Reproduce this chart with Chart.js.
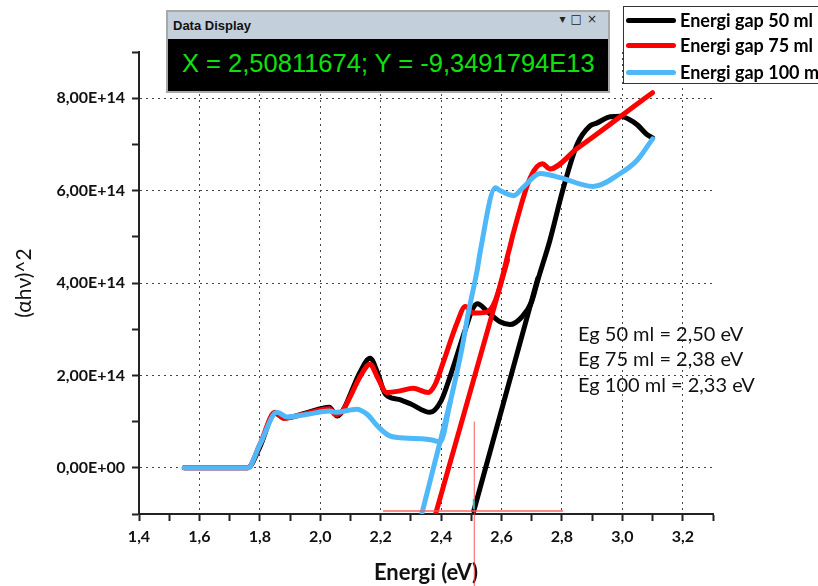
<!DOCTYPE html>
<html>
<head>
<meta charset="utf-8">
<script src="https://cdn.jsdelivr.net/npm/chart.js@4"></script>
<style>
  body { margin: 0; background: #fff; overflow: hidden; }
  #wrap { position: relative; width: 818px; height: 586px; overflow: hidden; }
  canvas { position: absolute; left: 0; top: 0; }
  #display { position: absolute; left: 166px; top: 10px; width: 440px; height: 79px; border: 2px solid #a8a8a8; background: #000; }
  #display .bar { height: 27px; background: #c3cfdb; font: bold 13px "Liberation Sans", Arial, sans-serif; color: #111; line-height: 28px; padding-left: 5px; position: relative; }
  #display .icons { position: absolute; right: 6px; top: 0; font: 12px "DejaVu Sans", sans-serif; color: #222; letter-spacing: 5px; }
  #display .val { color: #10e010; font: 25.5px "Liberation Sans", Arial, sans-serif; padding-left: 14px; line-height: 28px; margin-top: 10px; white-space: nowrap; }
  #legend { position: absolute; left: 623px; top: 6px; width: 220px; height: 76px; border: 1px solid #333; background: #fff; }
  #legend .row { position: absolute; left: 0; height: 20px; white-space: nowrap; font: bold 18px Lato, sans-serif; color: #000; line-height: 20px; }
  #legend .sw { display: inline-block; width: 50px; height: 5px; border-radius: 3px; vertical-align: middle; margin: 0 4px 0 2px; position: relative; top: -2px; }
  .note { position: absolute; left: 578px; font: 20px Lato, sans-serif; color: #111; line-height: 20px; white-space: nowrap; }
</style>
</head>
<body>
<div id="wrap">
  <canvas id="chart" width="818" height="586"></canvas>
  <div id="display">
    <div class="bar">Data Display<span class="icons">▾□×</span></div>
    <div class="val">X = 2,50811674; Y = -9,3491794E13</div>
  </div>
  <div id="legend"></div>
  <div class="note" style="top:323px">Eg 50 ml = 2,50 eV</div>
  <div class="note" style="top:348px">Eg 75 ml = 2,38 eV</div>
  <div class="note" style="top:374px">Eg 100 ml = 2,33 eV</div>
</div>
<script>
// curve 50 ml
const energy50 = [1.55, 1.76, 1.80, 1.85, 1.88, 1.95, 2.03, 2.056, 2.08, 2.10, 2.13, 2.165, 2.19, 2.215, 2.26, 2.30, 2.363, 2.40, 2.43, 2.48, 2.503, 2.52, 2.555, 2.595, 2.628, 2.668, 2.70, 2.72, 2.76, 2.804, 2.85, 2.893, 2.915, 2.96, 2.993, 3.02, 3.05, 3.08, 3.10];
const alpha50 = [0, 0, 0.45e14, 1.18e14, 1.08e14, 1.18e14, 1.31e14, 1.12e14, 1.3e14, 1.6e14, 2.05e14, 2.37e14, 2.05e14, 1.6e14, 1.48e14, 1.38e14, 1.2e14, 1.45e14, 1.98e14, 2.99e14, 3.42e14, 3.55e14, 3.37e14, 3.16e14, 3.1e14, 3.27e14, 3.6e14, 4.06e14, 4.92e14, 6.04e14, 7.0e14, 7.4e14, 7.46e14, 7.6e14, 7.61e14, 7.55e14, 7.42e14, 7.22e14, 7.14e14];
// curve 75 ml
const energy75 = [1.55, 1.76, 1.80, 1.85, 1.88, 1.95, 2.03, 2.05, 2.07, 2.10, 2.13, 2.165, 2.19, 2.22, 2.26, 2.307, 2.357, 2.38, 2.407, 2.453, 2.48, 2.507, 2.55, 2.58, 2.625, 2.64, 2.695, 2.735, 2.76, 2.85, 2.95, 3.03, 3.10];
const alpha75 = [0, 0, 0.5e14, 1.2e14, 1.07e14, 1.17e14, 1.28e14, 1.15e14, 1.2e14, 1.55e14, 1.95e14, 2.24e14, 1.95e14, 1.63e14, 1.66e14, 1.72e14, 1.63e14, 1.8e14, 2.28e14, 3.14e14, 3.49e14, 3.35e14, 3.37e14, 3.63e14, 4.71e14, 5.1e14, 6.28e14, 6.58e14, 6.47e14, 6.91e14, 7.39e14, 7.78e14, 8.12e14];
// curve 100 ml
const energy100 = [1.55, 1.76, 1.80, 1.857, 1.89, 1.95, 2.03, 2.05, 2.12, 2.155, 2.19, 2.23, 2.29, 2.337, 2.37, 2.397, 2.43, 2.47, 2.49, 2.52, 2.53, 2.58, 2.595, 2.64, 2.67, 2.728, 2.794, 2.903, 2.993, 3.048, 3.10];
const alpha100 = [0, 0, 0.5e14, 1.2e14, 1.1e14, 1.15e14, 1.23e14, 1.2e14, 1.27e14, 1.16e14, 0.9e14, 0.69e14, 0.64e14, 0.63e14, 0.6e14, 0.56e14, 1.42e14, 2.62e14, 3.35e14, 4.3e14, 4.7e14, 6.06e14, 6.0e14, 5.89e14, 6.06e14, 6.37e14, 6.28e14, 6.09e14, 6.37e14, 6.65e14, 7.12e14];

// tangent lines (start, end)
const tangent50 = { energy: [2.508, 2.72], alpha: [-0.935e14, 4.1e14] };
const tangent75 = { energy: [2.383, 2.62], alpha: [-0.97e14, 4.5e14] };
const tangent100 = { energy: [2.337, 2.43], alpha: [-0.97e14, 1.42e14] };

// data cursor
const cursorX = 2.50811674;
const cursorY = -9.3491794e13;
const cursorXSpan = [2.208, 2.804];
const cursorYTop = 1.0e14;

const xTicks = [1.4, 3.3, 0.1];
const yTicks = [-1e14, 9e14, 1e14];

const seriesNames = ['Energi gap 50 ml', 'Energi gap 75 ml', 'Energi gap 100 ml'];
const seriesColors = ['#000000', '#ff0000', '#4fb8f8'];

const toPoints = (xs, ys) => xs.map((x, i) => ({ x: x, y: ys[i] }));

function curve(label, xs, ys, color, order) {
    return {
        label: label,
        data: toPoints(xs, ys),
        borderColor: color,
        borderWidth: 5,
        pointRadius: 0,
        cubicInterpolationMode: 'monotone',
        borderCapStyle: 'round',
        borderJoinStyle: 'round',
        order: order
    };
}

function straight(t, color, order) {
    return {
        label: '',
        data: toPoints(t.energy, t.alpha),
        borderColor: color,
        borderWidth: 5,
        pointRadius: 0,
        tension: 0,
        borderCapStyle: 'round',
        order: order
    };
}

const cursorPlugin = {
    id: 'cursor',
    afterDatasetsDraw(chart) {
        const ctx = chart.ctx;
        const xs = chart.scales.x, ys = chart.scales.y;
        const px = xs.getPixelForValue(cursorX);
        const py = ys.getPixelForValue(cursorY);
        ctx.save();
        ctx.strokeStyle = 'rgba(255,60,60,0.85)';
        ctx.lineWidth = 1;
        ctx.beginPath();
        ctx.moveTo(px + 0.5, ys.getPixelForValue(cursorYTop));
        ctx.lineTo(px + 0.5, chart.height);
        ctx.stroke();
        ctx.lineWidth = 2;
        ctx.strokeStyle = 'rgba(255,90,90,0.7)';
        ctx.beginPath();
        ctx.moveTo(xs.getPixelForValue(cursorXSpan[0]), py);
        ctx.lineTo(xs.getPixelForValue(cursorXSpan[1]), py);
        ctx.stroke();
        ctx.fillStyle = '#20c0c0';
        ctx.fillRect(px - 1, py - 12, 2, 10);
        ctx.restore();
    }
};

const isMajorX = v => Math.round(v * 10) % 2 === 0;
const isMajorY = v => Math.round(v / 1e14) % 2 === 0;

new Chart(document.getElementById('chart'), {
    type: 'line',
    data: {
        datasets: [
            curve(seriesNames[0], energy50, alpha50, seriesColors[0], 3),
            curve(seriesNames[1], energy75, alpha75, seriesColors[1], 2),
            curve(seriesNames[2], energy100, alpha100, seriesColors[2], 1),
            straight(tangent50, seriesColors[0], 3),
            straight(tangent75, seriesColors[1], 2),
            straight(tangent100, seriesColors[2], 1)
        ]
    },
    options: {
        responsive: false,
        animation: false,
        devicePixelRatio: 1,
        layout: { padding: { top: 52, right: 105, left: 0, bottom: 0 } },
        plugins: { legend: { display: false }, tooltip: { enabled: false } },
        scales: {
            x: {
                type: 'linear',
                min: xTicks[0],
                max: xTicks[1],
                afterFit: s => { s.height = 72; },
                ticks: {
                    stepSize: xTicks[2],
                    autoSkip: false,
                    maxRotation: 0,
                    padding: 6,
                    color: '#111',
                    font: { family: 'Lato', weight: 'bold', size: 16 },
                    callback: v => isMajorX(v) ? v.toFixed(1).replace('.', ',') : ''
                },
                grid: {
                    color: c => (c.tick && isMajorX(c.tick.value)) ? '#444' : 'transparent',
                    tickColor: '#222',
                    tickWidth: 2,
                    tickLength: 7,
                    tickBorderDash: []
                },
                border: { color: '#222', width: 2, dash: [2, 4] },
                title: {
                    display: true,
                    text: 'Energi (eV)',
                    color: '#111',
                    font: { family: 'Lato', weight: 'bold', size: 22 },
                    padding: { top: 0, bottom: 0 }
                }
            },
            y: {
                type: 'linear',
                min: yTicks[0],
                max: yTicks[1],
                afterFit: s => { s.width = 139; },
                ticks: {
                    stepSize: yTicks[2],
                    autoSkip: false,
                    padding: 7,
                    color: '#111',
                    font: { family: 'Lato', weight: 'bold', size: 16 },
                    callback: v => {
                        if (!isMajorY(v)) return '';
                        const n = Math.round(v / 1e14);
                        return n === 0 ? '0,00E+00' : n.toFixed(2).replace('.', ',') + 'E+14';
                    }
                },
                grid: {
                    color: c => (c.tick && isMajorY(c.tick.value)) ? '#444' : 'transparent',
                    tickColor: '#222',
                    tickWidth: 2,
                    tickLength: 7,
                    tickBorderDash: []
                },
                border: { color: '#222', width: 2, dash: [2, 4] },
                title: {
                    display: true,
                    text: '(αhν)^2',
                    color: '#111',
                    font: { family: 'Lato', weight: 'normal', size: 21 },
                    padding: { top: 12, bottom: 0 }
                }
            }
        }
    },
    plugins: [cursorPlugin]
});

// legend box (partly cut by the window edge like the original)
const legend = document.getElementById('legend');
seriesNames.forEach((name, i) => {
    const row = document.createElement('div');
    row.className = 'row';
    row.style.top = [3, 28, 55][i] + 'px';
    row.innerHTML = '<span class="sw" style="background:' + seriesColors[i] + '"></span>' + name;
    legend.appendChild(row);
});
</script>
</body>
</html>
